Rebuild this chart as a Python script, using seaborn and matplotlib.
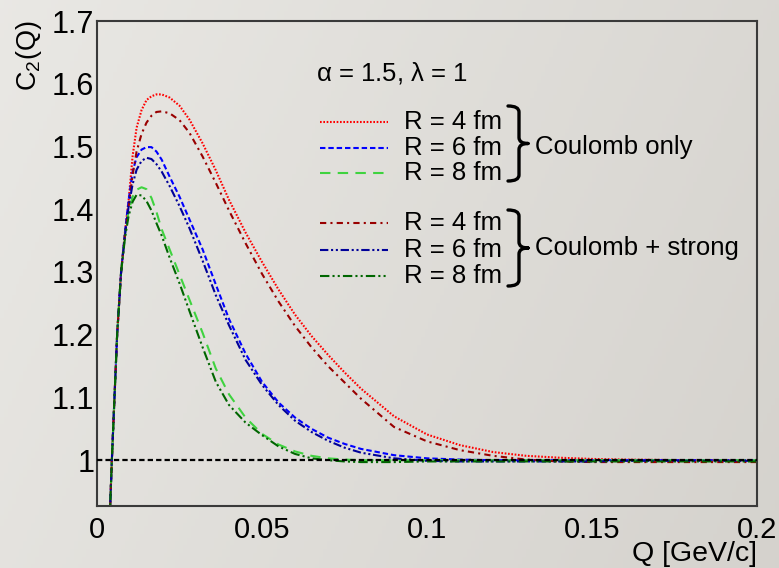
import numpy as np
import pandas as pd
import matplotlib
matplotlib.use("Agg")
import matplotlib.pyplot as plt
from matplotlib.lines import Line2D
from matplotlib.path import Path
from matplotlib.patches import PathPatch
import seaborn as sns

# ---------------- data ----------------
Q = [0.0038, 0.0045, 0.0053, 0.0061, 0.0073, 0.0085, 0.0096, 0.0108, 0.012, 0.0135,
     0.015, 0.0165, 0.018, 0.0196, 0.022, 0.025, 0.028, 0.032, 0.036, 0.04,
     0.045, 0.05, 0.055, 0.06, 0.065, 0.07, 0.075, 0.08, 0.09, 0.10,
     0.11, 0.12, 0.13, 0.14, 0.15, 0.16, 0.18, 0.20]

c_R4 = [0.90, 1.00, 1.10, 1.20, 1.30, 1.365, 1.415, 1.485, 1.530, 1.558,
        1.574, 1.580, 1.583, 1.583, 1.578, 1.565, 1.543, 1.505, 1.462, 1.415,
        1.363, 1.316, 1.272, 1.232, 1.198, 1.168, 1.140, 1.114, 1.070, 1.041,
        1.024, 1.013, 1.007, 1.004, 1.002, 1.001, 1.000, 1.000]
c_R6 = [0.90, 1.00, 1.10, 1.20, 1.30, 1.365, 1.415, 1.460, 1.483, 1.495,
        1.499, 1.499, 1.492, 1.479, 1.452, 1.420, 1.384, 1.336, 1.280, 1.225,
        1.170, 1.125, 1.092, 1.068, 1.050, 1.036, 1.026, 1.018, 1.008, 1.003,
        1.001, 1.000, 1.000, 1.000, 1.000, 1.000, 1.000, 1.000]
c_R8 = [0.90, 1.00, 1.10, 1.20, 1.30, 1.360, 1.398, 1.420, 1.431, 1.435,
        1.432, 1.418, 1.396, 1.368, 1.336, 1.296, 1.256, 1.203, 1.146, 1.105,
        1.068, 1.042, 1.025, 1.014, 1.007, 1.003, 1.001, 1.000, 1.000, 1.000,
        1.000, 1.000, 1.000, 1.000, 1.000, 1.000, 1.000, 1.000]
cs_R4 = [0.90, 1.00, 1.10, 1.20, 1.30, 1.360, 1.405, 1.455, 1.492, 1.520,
         1.538, 1.549, 1.555, 1.556, 1.553, 1.542, 1.522, 1.484, 1.442, 1.398,
         1.346, 1.297, 1.253, 1.214, 1.180, 1.150, 1.124, 1.098, 1.053, 1.030,
         1.016, 1.007, 1.001, 0.998, 0.997, 0.997, 0.997, 0.997]
cs_R6 = [0.90, 1.00, 1.10, 1.20, 1.30, 1.360, 1.405, 1.440, 1.463, 1.477,
         1.482, 1.480, 1.472, 1.460, 1.437, 1.405, 1.370, 1.318, 1.263, 1.215,
         1.160, 1.120, 1.088, 1.063, 1.045, 1.031, 1.020, 1.012, 1.003, 0.999,
         0.998, 0.998, 0.998, 0.998, 0.998, 0.999, 0.999, 0.999]
cs_R8 = [0.90, 1.00, 1.10, 1.20, 1.30, 1.355, 1.390, 1.412, 1.423, 1.422,
         1.413, 1.398, 1.378, 1.358, 1.323, 1.282, 1.238, 1.180, 1.125, 1.088,
         1.060, 1.040, 1.022, 1.010, 1.003, 1.000, 0.998, 0.997, 0.997, 0.998,
         0.998, 0.998, 0.998, 0.998, 0.998, 0.998, 0.998, 0.998]

curve_names = ["C R4", "C R6", "C R8", "CS R4", "CS R6", "CS R8"]
curve_vals = [c_R4, c_R6, c_R8, cs_R4, cs_R6, cs_R8]
legend_labels = ["R = 4 fm", "R = 6 fm", "R = 8 fm", "R = 4 fm", "R = 6 fm", "R = 8 fm"]
group_labels = ["Coulomb only", "Coulomb + strong"]
param_text = r"$\alpha$ = 1.5, $\lambda$ = 1"
y_ticks = [1.0, 1.1, 1.2, 1.3, 1.4, 1.5, 1.6, 1.7]
y_ticklabels = ["1", "1.1", "1.2", "1.3", "1.4", "1.5", "1.6", "1.7"]
x_ticks = [0, 0.05, 0.1, 0.15, 0.2]
x_ticklabels = ["0", "0.05", "0.1", "0.15", "0.2"]

# ---------------- styles ----------------
colors = {"C R4": "#ff0000", "C R6": "#0000ff", "C R8": "#3fd33f",
          "CS R4": "#990000", "CS R6": "#000099", "CS R8": "#006600"}
dashes = {"C R4": (0.8, 0.8), "C R6": (2.6, 1.4), "C R8": (5, 3.5),
          "CS R4": (3, 2, 1, 2), "CS R6": (4, 1.3, 1, 1.3, 1, 1.3),
          "CS R8": (4.5, 1.5, 1, 1.5, 1, 1.5)}

df = pd.concat([pd.DataFrame({"Q": Q, "C2": v, "curve": n})
                for n, v in zip(curve_names, curve_vals)], ignore_index=True)

sns.set_theme(style="white")
plt.rcParams["font.family"] = ["Liberation Sans", "DejaVu Sans"]
plt.rcParams["mathtext.fontset"] = "custom"
plt.rcParams["mathtext.rm"] = "Liberation Sans"
plt.rcParams["mathtext.it"] = "Liberation Sans"
plt.rcParams["text.color"] = "black"

W, H = 779, 568
fig = plt.figure(figsize=(W / 100, H / 100), dpi=100)

# background gradient
bg = fig.add_axes([0, 0, 1, 1], zorder=-10)
gx = np.linspace(0, 1, 200)
gy = np.linspace(0, 1, 150)
GX, GY = np.meshgrid(gx, gy)
t = np.clip(0.75 * GX + 0.25 * GY, 0, 1)
c0 = np.array([0.915, 0.910, 0.895])
c1 = np.array([0.835, 0.825, 0.805])
img = c0[None, None, :] * (1 - t[..., None]) + c1[None, None, :] * t[..., None]
bg.imshow(img, aspect="auto", extent=[0, 1, 0, 1], origin="upper")
bg.axis("off")

def fx(x):
    return x / W

def fy(y):
    return 1 - y / H

ax = fig.add_axes([fx(97), fy(506), fx(757) - fx(97), fy(21) - fy(506)])
ax.set_facecolor("none")

sns.lineplot(data=df, x="Q", y="C2", hue="curve", style="curve",
             palette=colors, dashes=dashes, linewidth=1.5,
             estimator=None, sort=False, legend=False, ax=ax)
ax.axhline(1.0, color="black", lw=1.6, ls=(0, (2.4, 1.4)), zorder=5)

ax.set_xlim(0, 0.2)
ax.set_ylim(0.927, 1.7)
ax.set_xticks(x_ticks)
ax.set_xticklabels(x_ticklabels)
ax.set_yticks(y_ticks)
ax.set_yticklabels(y_ticklabels)
ax.set_xticks(np.arange(0, 0.2001, 0.01), minor=True)
ax.set_yticks(np.arange(0.94, 1.7001, 0.02), minor=True)
ax.tick_params(axis="both", which="both", direction="in", colors="#333333",
               labelcolor="black", labelsize=22, top=False, right=False)
ax.tick_params(which="major", length=14, width=1.2)
ax.tick_params(which="minor", length=7.5, width=1.2)
ax.tick_params(axis="y", pad=2)
ax.tick_params(axis="x", pad=7, labelsize=21)
for s in ax.spines.values():
    s.set_color("#3a3a3a")
    s.set_linewidth(1.5)
ax.set_xlabel("")
ax.set_ylabel("")

fig.text(fx(757), fy(561), "Q [GeV/c]", ha="right", va="baseline", fontsize=20.5,
         color="black")
fig.text(fx(14), fy(20), r"C$_{2}$(Q)", ha="left", va="top", rotation=90,
         fontsize=19.5, color="black")

# ---------------- legend (drawn manually to match layout) ----------------
fig.text(fx(316), fy(73), param_text, ha="left", va="center", fontsize=18.5, color="black")
rows_y = [122, 148, 173, 223, 250, 276]
for n, lab, yy in zip(curve_names, legend_labels, rows_y):
    ln = Line2D([fx(320), fx(388)], [fy(yy), fy(yy)], color=colors[n], lw=1.5,
                dashes=dashes[n], transform=fig.transFigure)
    fig.add_artist(ln)
    fig.text(fx(404), fy(yy), lab, ha="left", va="center", fontsize=18.5, color="black")

def brace(x0, ytop, ybot, x1):
    xm = x0 + (x1 - x0) * 0.55
    ymid = (ytop + ybot) / 2
    r = 6
    verts = [(x0, ytop), (xm, ytop), (xm, ytop + r), (xm, ytop + r + 1),
             (xm, ymid - r), (xm, ymid), (x1, ymid), (x1, ymid),
             (xm, ymid), (xm, ymid + r), (xm, ymid + r),
             (xm, ybot - r), (xm, ybot), (x0, ybot)]
    codes = [Path.MOVETO, Path.CURVE3, Path.CURVE3, Path.LINETO,
             Path.LINETO, Path.CURVE3, Path.CURVE3, Path.MOVETO,
             Path.CURVE3, Path.CURVE3, Path.LINETO,
             Path.LINETO, Path.CURVE3, Path.CURVE3]
    v = [(fx(a), fy(b)) for a, b in verts]
    p = PathPatch(Path(v, codes), fill=False, lw=2.4, color="black",
                  transform=fig.transFigure, capstyle="round", joinstyle="round")
    fig.add_artist(p)

brace(508, 106, 181, 528)
brace(508, 210, 286, 528)
fig.text(fx(535), fy(147), group_labels[0], ha="left", va="center", fontsize=18.5, color="black")
fig.text(fx(535), fy(248), group_labels[1], ha="left", va="center", fontsize=18.5, color="black")

fig.savefig("out.png", dpi=100)
